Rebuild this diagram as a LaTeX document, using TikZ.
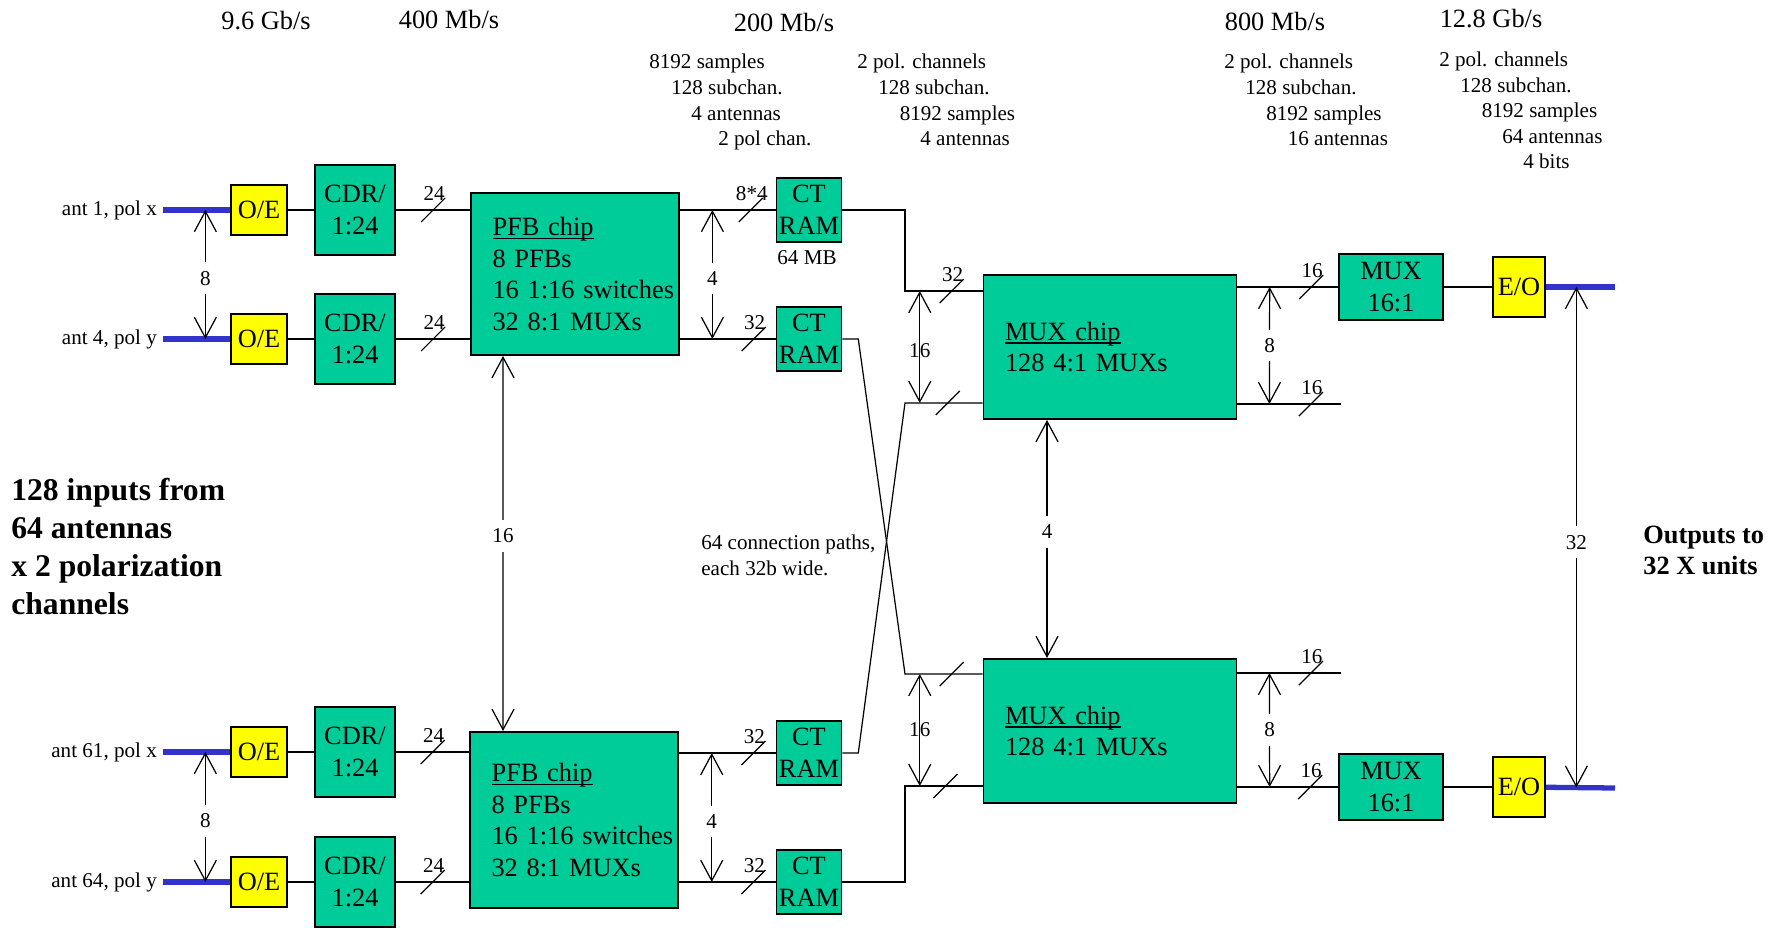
\documentclass[tikz,border=0pt]{standalone}
\usepackage{fontspec}
\setmainfont{Liberation Serif}
\usetikzlibrary{arrows.meta}

\definecolor{chipgreen}{RGB}{0,204,153}
\definecolor{oeyellow}{RGB}{255,255,0}
\definecolor{fiberblue}{RGB}{51,51,204}

\newcommand{\chipname}[1]{\setbox0\hbox{#1}\rlap{\rule[-2pt]{\wd0}{0.8pt}}\box0}

\tikzset{
  box/.style={draw, line width=0.9pt, inner sep=0pt, align=center,
    font=\fontsize{15}{18}\selectfont},
  chip/.style={box, fill=chipgreen},
  oe/.style={box, fill=oeyellow, minimum width=1.12cm, minimum height=1cm},
  eo/.style={box, fill=oeyellow, minimum width=1.05cm, minimum height=1.19cm},
  cdr/.style={chip, minimum width=1.61cm, minimum height=1.8cm},
  ctram/.style={chip, minimum width=1.3cm, minimum height=1.29cm},
  mux/.style={chip, minimum width=2.07cm, minimum height=1.31cm},
  bigchip/.style={chip, align=left, inner xsep=0.43cm},
  wire/.style={line width=0.7pt},
  fiber/.style={line width=3pt, draw=fiberblue},
  dbl/.style={wire, {Straight Barb[length=4.1mm,width=4.4mm]}-{Straight Barb[length=4.1mm,width=4.4mm]}},
  num/.style={fill=white, inner xsep=1pt, inner ysep=5pt, font=\fontsize{12}{14}\selectfont},
  small/.style={font=\fontsize{12}{14.55}\selectfont},
  rate/.style={font=\fontsize{15}{18}\selectfont},
  pics/bus/.style={code={
    \draw[wire] (-12,12) -- (12,-12);
    \node[small, inner sep=0pt] (-n) at (1,-16) {#1};
  }},
}

\begin{document}
\begin{tikzpicture}[x=0.02cm, y=-0.02cm]
  \useasboundingbox (0,0) rectangle (1786,928);

  % data rates
  \node[rate] (r1) at (266,21) {9.6 Gb/s};
  \node[rate] (r2) at (449,19) {400 Mb/s};
  \node[rate] (r3) at (784,22) {200 Mb/s};
  \node[rate] (r4) at (1275,21) {800 Mb/s};
  \node[rate] (r5) at (1491,19) {12.8 Gb/s};

  % data formats
  \node[small, align=left, anchor=north west, inner sep=0pt] (fmt1) at (649,54)
    {8192 samples\\\hspace*{0.44cm}128 subchan.\\\hspace*{0.84cm}4 antennas\\\hspace*{1.38cm}2 pol chan.};
  \node[small, align=left, anchor=north west, inner sep=0pt] (fmt2) at (857,54)
    {2 pol. channels\\\hspace*{0.42cm}128 subchan.\\\hspace*{0.85cm}8192 samples\\\hspace*{1.26cm}4 antennas};
  \node[small, align=left, anchor=north west, inner sep=0pt] (fmt3) at (1224,54)
    {2 pol. channels\\\hspace*{0.42cm}128 subchan.\\\hspace*{0.84cm}8192 samples\\\hspace*{1.27cm}16 antennas};
  \node[small, align=left, anchor=north west, inner sep=0pt] (fmt4) at (1439,51.5)
    {2 pol. channels\\\hspace*{0.42cm}128 subchan.\\\hspace*{0.85cm}8192 samples\\\hspace*{1.26cm}64 antennas\\\hspace*{1.68cm}4 bits};

  % inputs
  \node[small, anchor=east] (ant1) at (163,210) {ant 1, pol x};
  \node[small, anchor=east] (ant4) at (163,339) {ant 4, pol y};
  \node[small, anchor=east] (ant61) at (163,752) {ant 61, pol x};
  \node[small, anchor=east] (ant64) at (163,882) {ant 64, pol y};

  \node[oe] (oe1) at (259,210) {O/E};
  \node[oe] (oe2) at (259,339) {O/E};
  \node[oe] (oe3) at (259,752) {O/E};
  \node[oe] (oe4) at (259,882) {O/E};

  \node[cdr] (cdr1) at (355,210) {CDR/\\1:24};
  \node[cdr] (cdr2) at (355,339) {CDR/\\1:24};
  \node[cdr] (cdr3) at (355,752) {CDR/\\1:24};
  \node[cdr] (cdr4) at (355,882) {CDR/\\1:24};

  \node[bigchip, text width=3.3cm, minimum height=3.25cm] (pfb1) at (575,274)
    {\chipname{PFB chip}\\8 PFBs\\16~1:16~switches\\32~8:1~MUXs};
  \node[bigchip, text width=3.3cm, minimum height=3.53cm] (pfb2) at (574,820)
    {\chipname{PFB chip}\\8 PFBs\\16~1:16~switches\\32~8:1~MUXs};

  \node[ctram] (ct1) at (809,210) {CT\\RAM};
  \node[ctram] (ct2) at (809,339) {CT\\RAM};
  \node[ctram] (ct3) at (809,753) {CT\\RAM};
  \node[ctram] (ct4) at (809,882) {CT\\RAM};
  \node[small] (mem) at (807,258) {64 MB};

  \node[bigchip, text width=4.2cm, minimum height=2.89cm] (mux1) at (1110,347)
    {\chipname{MUX chip}\\128 4:1 MUXs};
  \node[bigchip, text width=4.2cm, minimum height=2.89cm] (mux2) at (1110,731)
    {\chipname{MUX chip}\\128 4:1 MUXs};

  \node[mux] (mx1) at (1391,287) {MUX\\16:1};
  \node[mux] (mx2) at (1391,787) {MUX\\16:1};
  \node[eo] (eo1) at (1519,287) {E/O};
  \node[eo] (eo2) at (1519,787) {E/O};

  \coordinate (j1) at (905,291);
  \coordinate (j2) at (905,403);
  \coordinate (j3) at (905,674);
  \coordinate (j4) at (905,786);
  \coordinate (f1) at (1341,404);
  \coordinate (f2) at (1341,673);
  \coordinate (o1) at (1615,287);
  \coordinate (o2) at (1615,788);

  % fibres in
  \draw[fiber] (ant1.east) -- coordinate[pos=0.63] (a1) (oe1);
  \draw[fiber] (ant4.east) -- coordinate[pos=0.63] (a2) (oe2);
  \draw[fiber] (ant61.east) -- coordinate[pos=0.63] (a3) (oe3);
  \draw[fiber] (ant64.east) -- coordinate[pos=0.63] (a4) (oe4);

  \draw[wire] (oe1) -- (cdr1);
  \draw[wire] (oe2) -- (cdr2);
  \draw[wire] (oe3) -- (cdr3);
  \draw[wire] (oe4) -- (cdr4);

  \draw[wire] (cdr1.east) -- pic{bus=24} (cdr1.east -| pfb1.west);
  \draw[wire] (cdr2.east) -- pic{bus=24} (cdr2.east -| pfb1.west);
  \draw[wire] (cdr3.east) -- pic{bus=24} (cdr3.east -| pfb2.west);
  \draw[wire] (cdr4.east) -- pic{bus=24} (cdr4.east -| pfb2.west);

  \draw[wire] (pfb1.east |- ct1) -- coordinate[pos=0.34] (q1) pic[pos=0.74]{bus=8*4} (ct1);
  \draw[wire] (pfb1.east |- ct2) -- coordinate[pos=0.34] (q2) pic[pos=0.77]{bus=32} (ct2);
  \draw[wire] (pfb2.east |- ct3) -- coordinate[pos=0.34] (q3) pic[pos=0.77]{bus=32} (ct3);
  \draw[wire] (pfb2.east |- ct4) -- coordinate[pos=0.34] (q4) pic[pos=0.77]{bus=32} (ct4);

  % crossing to the MUX chips
  \draw[wire] (ct1.east) -| (j1) -- coordinate[pos=0.19] (k1) pic[pos=0.6]{bus=32} (j1 -| mux1.west);
  \draw[wire] (ct3.east) -- ++(16,0) -- (j2) -- coordinate[pos=0.19] (k2) pic[pos=0.55]{bus=} (j2 -| mux1.west);
  \draw[wire] (ct2.east) -- ++(16,0) -- (j3) -- coordinate[pos=0.19] (k3) pic[pos=0.6]{bus=} (j3 -| mux2.west);
  \draw[wire] (ct4.east) -| (j4) -- coordinate[pos=0.19] (k4) pic[pos=0.52]{bus=} (j4 -| mux2.west);

  \draw[wire] (mux1.east |- mx1) -- coordinate[pos=0.32] (u1) pic[pos=0.73]{bus=16} (mx1);
  \draw[wire] (mux1.east |- f1) -- coordinate[pos=0.31] (u2) pic[pos=0.71]{bus=16} (f1);
  \draw[wire] (mux2.east |- f2) -- coordinate[pos=0.31] (u3) pic[pos=0.71]{bus=16} (f2);
  \draw[wire] (mux2.east |- mx2) -- coordinate[pos=0.32] (u4) pic[pos=0.72]{bus=16} (mx2);

  \draw[wire] (mx1) -- (eo1);
  \draw[wire] (mx2) -- (eo2);
  \draw[fiber] (eo1) -- coordinate[pos=0.44] (b1) (o1);
  \draw[fiber] (eo2) -- coordinate[pos=0.44] (b2) (o2);

  % widths between chips
  \draw[dbl] (a1) -- node[num, pos=0.53] {8} (a2);
  \draw[dbl] (a3) -- node[num, pos=0.53] {8} (a4);
  \draw[dbl] (q1) -- node[num, pos=0.53] {4} (q2);
  \draw[dbl] (q3) -- node[num, pos=0.53] {4} (q4);
  \draw[dbl] ([xshift=-1.44cm]pfb1.south) -- node[num, pos=0.48] {16} ([xshift=-1.42cm]pfb2.north);
  \draw[dbl] (k1) -- node[num, fill=none, inner ysep=0pt, pos=0.53] {16} (k2);
  \draw[dbl] (k3) -- node[num, fill=none, inner ysep=0pt] {16} (k4);
  \draw[dbl] ([xshift=-1.26cm]mux1.south) -- node[num, pos=0.47] {4} ([xshift=-1.26cm]mux2.north);
  \draw[dbl] (u1) -- node[num] {8} (u2);
  \draw[dbl] (u3) -- node[num] {8} (u4);
  \draw[dbl] (b1) -- node[num, pos=0.51] {32} (b2);

  % notes
  \node[small, align=left, anchor=north west, inner sep=0pt] (paths) at (701,535)
    {64 connection paths,\\each 32b wide.};
  \node[font=\fontsize{18}{21.7}\selectfont\bfseries, align=left, anchor=north west, inner sep=0pt] (inputs) at (11,478)
    {128 inputs from\\64 antennas\\x 2 polarization\\channels};
  \node[font=\fontsize{15}{17.6}\selectfont\bfseries, align=left, anchor=north west, inner sep=0pt] (outputs) at (1643,526)
    {Outputs to\\32 X units};
\end{tikzpicture}
\end{document}
